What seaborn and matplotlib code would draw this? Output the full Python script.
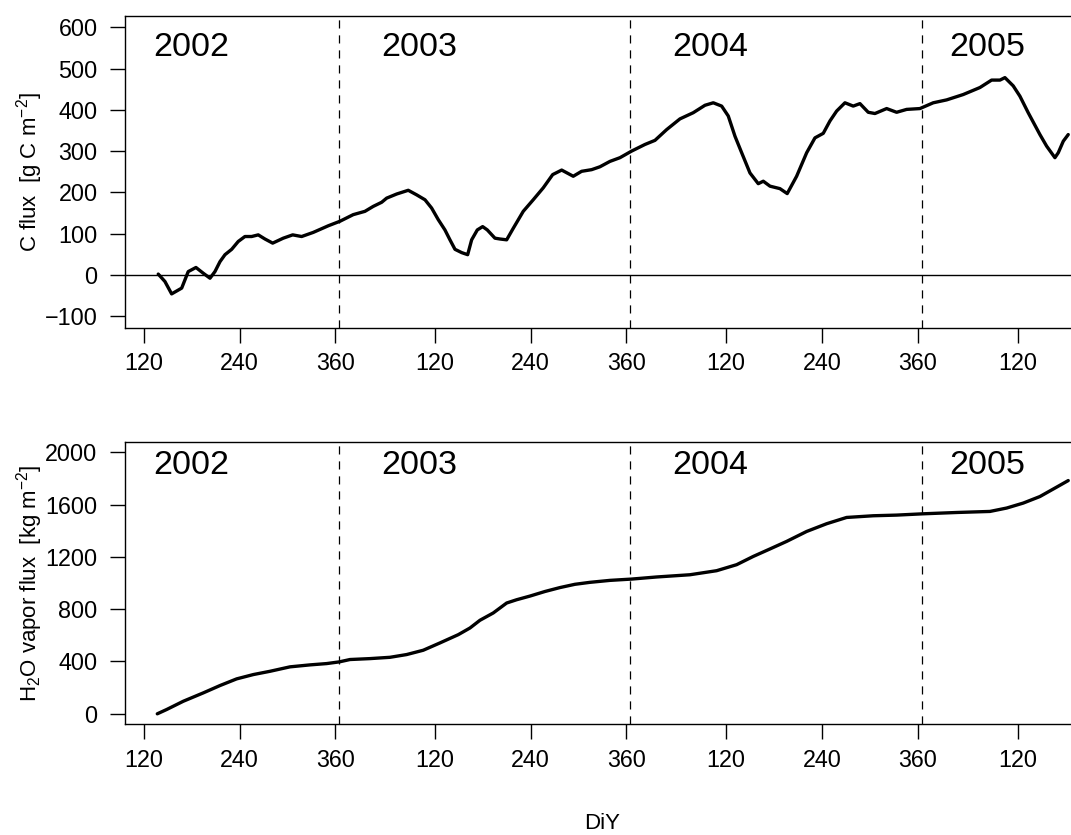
import matplotlib
matplotlib.use("Agg")
import matplotlib.pyplot as plt
import pandas as pd
import seaborn as sns

# Cumulative carbon flux (g C m-2) against continuous day count from 1 Jan 2002
c_day = [137.9, 146.3, 154.7, 167.3, 175.5, 185.2, 194.4, 202.8, 209.0, 215.3,
         221.6, 230.0, 238.2, 246.6, 255.0, 263.3, 271.7, 281.4, 294.7, 306.5,
         317.7, 332.3, 351.1, 365.8, 382.4, 397.1, 407.5, 418.1, 424.3, 436.9,
         451.4, 461.9, 472.4, 480.7, 489.0, 497.4, 503.7, 510.0, 518.4, 525.9,
         530.9, 538.0, 544.7, 550.5, 560.1, 566.4, 574.8, 583.1, 595.6, 608.1,
         620.7, 632.5, 643.8, 658.3, 668.8, 681.4, 691.8, 704.3, 716.9, 731.5,
         748.2, 760.8, 775.4, 792.1, 808.8, 823.5, 833.9, 844.4, 852.7, 861.1,
         869.5, 879.9, 890.3, 896.6, 905.0, 917.5, 926.6, 938.4, 951.0, 961.4,
         971.8, 980.2, 988.6, 999.0, 1009.4, 1017.8, 1028.2, 1036.6, 1051.3, 1063.8,
         1076.4, 1093.0, 1109.7, 1126.5, 1147.3, 1168.3, 1182.9, 1193.4, 1199.6, 1210.0,
         1218.4, 1228.8, 1243.5, 1251.9, 1262.3, 1266.5, 1272.8, 1279.0]
c_flux = [2, -16, -46, -32, 8, 18, 4, -8, 8, 32,
          49, 62, 81, 93, 93, 97, 87, 77, 89, 97,
          93, 103, 119, 130, 146, 154, 166, 176, 186, 196,
          205, 194, 182, 162, 134, 109, 85, 62, 54, 49,
          85, 109, 117, 109, 89, 87, 85, 113, 154, 182,
          211, 243, 254, 239, 251, 255, 262, 275, 284, 300,
          316, 326, 352, 378, 393, 411, 417, 409, 385, 336,
          296, 247, 221, 227, 215, 209, 197, 239, 296, 332,
          343, 373, 397, 417, 409, 415, 394, 391, 403, 394,
          401, 403, 417, 424, 437, 454, 472, 472, 478, 458,
          433, 393, 340, 312, 284, 296, 324, 340]

# Cumulative water vapour flux (kg m-2)
h2o_day = [136.7, 148.5, 169.3, 194.4, 215.3, 236.2, 257.1, 278.0, 303.1, 328.2,
           349.1, 364.9, 378.3, 403.4, 428.5, 449.4, 470.2, 491.2, 514.1, 528.8,
           541.3, 558.0, 574.8, 587.3, 604.0, 622.8, 641.6, 660.4, 679.2, 704.3,
           731.5, 762.9, 804.6, 838.1, 863.2, 884.0, 904.9, 925.9, 951.0, 976.0,
           1001.1, 1034.5, 1063.8, 1097.2, 1139.1, 1180.8, 1201.8, 1222.6, 1243.5, 1264.5,
           1279.0]
h2o_flux = [0, 33, 96, 160, 216, 267, 300, 325, 359, 374,
            384, 397, 415, 422, 432, 453, 486, 542, 605, 656,
            715, 771, 847, 872, 900, 935, 965, 990, 1005, 1020,
            1030, 1046, 1063, 1094, 1140, 1203, 1260, 1318, 1394, 1453,
            1501, 1514, 1519, 1529, 1539, 1547, 1573, 1611, 1661, 1733,
            1783]

year_bounds = [365, 730, 1096]
year_labels = ["2002", "2003", "2004", "2005"]
year_label_day = [179, 465, 830, 1177]

tick_days = [120, 240, 360, 485, 605, 725, 850, 970, 1090, 1216]
tick_labels = ["120", "240", "360", "120", "240", "360", "120", "240", "360", "120"]

c_yticks = [-100, 0, 100, 200, 300, 400, 500, 600]
h2o_yticks = [0, 400, 800, 1200, 1600, 2000]

sns.set_style("ticks")
plt.rcParams.update({
    "font.family": ["Liberation Sans", "DejaVu Sans"],
    "mathtext.fontset": "custom",
    "mathtext.rm": "Liberation Sans",
    "mathtext.it": "Liberation Sans:italic",
    "mathtext.default": "regular",
    "text.color": "black",
    "axes.labelcolor": "black",
    "axes.linewidth": 1.0,
    "axes.edgecolor": "black",
    "xtick.color": "black",
    "ytick.color": "black",
    "xtick.labelcolor": "black",
    "ytick.labelcolor": "black",
    "xtick.direction": "out",
    "ytick.direction": "out",
    "xtick.major.size": 10.5,
    "ytick.major.size": 10.5,
    "xtick.major.width": 1.0,
    "ytick.major.width": 1.0,
    "xtick.major.pad": 7.0,
    "ytick.major.pad": 9.0,
    "xtick.labelsize": 16.8,
    "ytick.labelsize": 16.8,
    "axes.labelsize": 16,
    "axes.unicode_minus": True,
})

c_df = pd.DataFrame({"day": c_day, "flux": c_flux})
h_df = pd.DataFrame({"day": h2o_day, "flux": h2o_flux})

fig = plt.figure(figsize=(10.71, 8.35), dpi=100)
ax1 = fig.add_axes([0.1164, 0.6075, 0.8910, 0.3737])
ax2 = fig.add_axes([0.1164, 0.1326, 0.8910, 0.3384])

xlim = (95.8, 1292.4)

panels = [
    (ax1, c_df, (-128, 628), c_yticks, r"C flux  [g C m$^{-2}$]", 550),
    (ax2, h_df, (-80, 2080), h2o_yticks, r"H$_2$O vapor flux  [kg m$^{-2}$]", 1895),
]

for ax, df, ylim, yticks, ylabel, label_y in panels:
    sns.lineplot(data=df, x="day", y="flux", ax=ax, color="black",
                 linewidth=2.4, sort=False, estimator=None)
    for b in year_bounds:
        ax.axvline(b, color="black", linewidth=0.9, linestyle=(0, (6.5, 5.5)))
    for lab, d in zip(year_labels, year_label_day):
        ax.text(d, label_y, lab, fontsize=24.5, ha="center", va="center",
                color="black")
    ax.set_xlim(*xlim)
    ax.set_ylim(*ylim)
    ax.set_xticks(tick_days)
    ax.set_xticklabels(tick_labels)
    ax.set_yticks(yticks)
    ax.set_ylabel(ylabel, va="center")
    ax.yaxis.set_label_coords(-0.1001, 0.5)
    ax.set_xlabel("")
    for side in ["top", "right", "left", "bottom"]:
        ax.spines[side].set_visible(True)
        ax.spines[side].set_linewidth(1.0)

ax1.axhline(0, color="black", linewidth=1.0)

ax2.set_xlabel("DiY", va="center")
ax2.xaxis.set_label_coords(0.5, -0.3528)

fig.savefig("out.png", dpi=100)
